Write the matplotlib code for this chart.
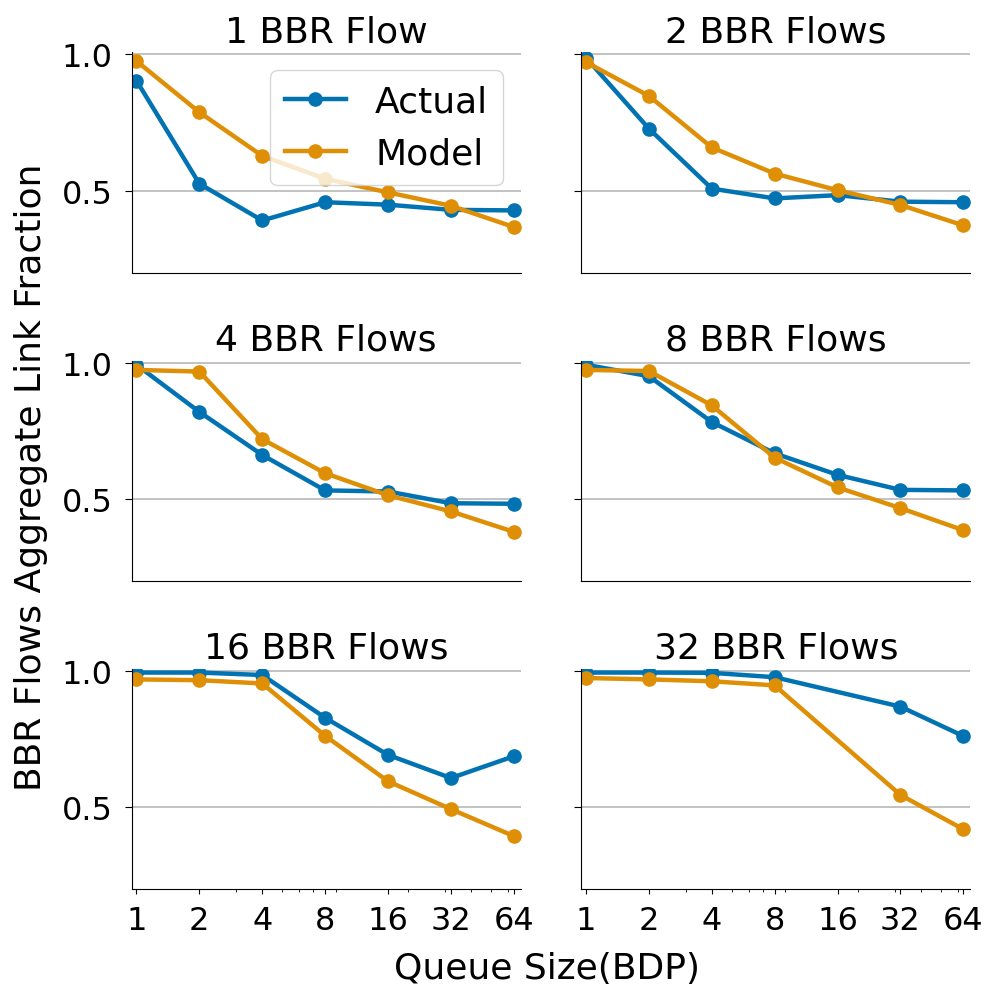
import numpy as np
import matplotlib
matplotlib.use("Agg")
import matplotlib.pyplot as plt
from matplotlib.ticker import FixedLocator, FixedFormatter, LogLocator, NullFormatter

# queue sizes (in BDP)
queue = [1, 2, 4, 8, 16, 32, 64]
titles = ["1 BBR Flow", "2 BBR Flows", "4 BBR Flows",
          "8 BBR Flows", "16 BBR Flows", "32 BBR Flows"]

# aggregate link fraction, measured
actual_1 = [0.904, 0.526, 0.391, 0.458, 0.449, 0.430, 0.428]
actual_2 = [0.988, 0.728, 0.508, 0.472, 0.484, 0.460, 0.458]
actual_4 = [0.993, 0.820, 0.662, 0.532, 0.528, 0.485, 0.483]
actual_8 = [0.993, 0.951, 0.783, 0.668, 0.589, 0.534, 0.532]
actual_16 = [0.995, 0.995, 0.986, 0.829, 0.693, 0.608, 0.688]
actual_32 = [0.995, 0.995, 0.994, 0.978, np.nan, 0.870, 0.762]

# aggregate link fraction, model
model_1 = [0.976, 0.788, 0.628, 0.544, 0.494, 0.445, 0.367]
model_2 = [0.972, 0.848, 0.659, 0.563, 0.502, 0.448, 0.373]
model_4 = [0.974, 0.968, 0.720, 0.595, 0.514, 0.455, 0.380]
model_8 = [0.974, 0.970, 0.844, 0.652, 0.543, 0.467, 0.386]
model_16 = [0.970, 0.967, 0.955, 0.763, 0.596, 0.494, 0.395]
model_32 = [0.975, 0.970, 0.963, 0.948, np.nan, 0.546, 0.420]

actual = [actual_1, actual_2, actual_4, actual_8, actual_16, actual_32]
model = [model_1, model_2, model_4, model_8, model_16, model_32]

blue = "#0173b2"
orange = "#de8f05"
fs_tick = 23
fs_text = 26


def plot_series(ax, x, y, color, label):
    x = np.array(x, dtype=float)
    y = np.array(y, dtype=float)
    ok = ~np.isnan(y)
    ax.plot(x[ok], y[ok], color=color, lw=3.2, marker="o", ms=9.5, label=label)


fig, axes = plt.subplots(3, 2, figsize=(9.91, 9.87), dpi=100, sharex=True, sharey=True)
plt.subplots_adjust(left=0.133, right=0.979, top=0.946, bottom=0.098,
                    wspace=0.156, hspace=0.40)

for i, ax in enumerate(axes.flat):
    plot_series(ax, queue, actual[i], blue, "Actual")
    plot_series(ax, queue, model[i], orange, "Model")
    ax.set_title(titles[i], fontsize=fs_text, pad=8)
    ax.set_xscale("log")
    ax.set_xlim(0.95, 69)
    ax.set_ylim(0.2, 1.008)
    ax.yaxis.grid(True, color="#bdbdbd", lw=1.3)
    ax.set_axisbelow(True)
    ax.spines["top"].set_visible(False)
    ax.spines["right"].set_visible(False)
    ax.set_yticks([0.5, 1.0])
    ax.tick_params(axis="y", labelsize=fs_tick, length=5, pad=9)
    ax.xaxis.set_major_locator(FixedLocator(queue))
    ax.xaxis.set_major_formatter(FixedFormatter([str(q) for q in queue]))
    ax.xaxis.set_minor_locator(LogLocator(base=10, subs=np.arange(2, 10)))
    ax.xaxis.set_minor_formatter(NullFormatter())
    ax.tick_params(axis="x", labelsize=fs_tick, pad=8)
    if i < 4:
        ax.tick_params(axis="x", which="both", bottom=False, labelbottom=False)
    if i % 2 == 1:
        ax.tick_params(axis="y", labelleft=False)

axes[0, 0].legend(loc="upper right", fontsize=fs_text, handlelength=1.7)

fig.text(0.031, 0.516, "BBR Flows Aggregate Link Fraction", rotation=90,
         ha="center", va="center", fontsize=fs_text)
fig.text(0.552, 0.018, "Queue Size(BDP)", ha="center", va="center", fontsize=fs_text)

plt.savefig("out.png", dpi=100)
